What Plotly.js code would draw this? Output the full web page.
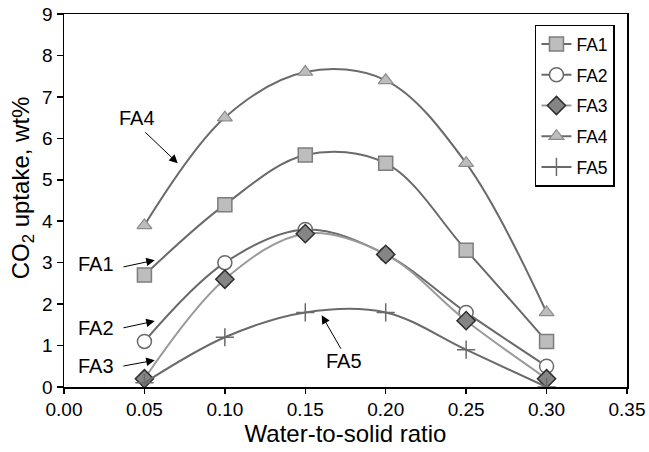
<!DOCTYPE html>
<html>
<head>
<meta charset="utf-8">
<script src="https://cdn.plot.ly/plotly-3.0.1.min.js"></script>
<style>
  html, body { margin: 0; padding: 0; background: #fff; }
  #chart { width: 649px; height: 452px; }
</style>
</head>
<body>
<div id="chart"></div>
<script>
// Water-to-solid ratio tested for each fly ash sample
const ratio = [0.05, 0.10, 0.15, 0.20, 0.25, 0.30];

// CO2 uptake (wt%) per fly ash sample
const fa1 = [2.7, 4.4, 5.6, 5.4, 3.3, 1.1];
const fa2 = [1.1, 3.0, 3.8, 3.2, 1.8, 0.5];
const fa3 = [0.2, 2.6, 3.7, 3.2, 1.6, 0.2];
const fa4 = [3.9, 6.5, 7.6, 7.4, 5.4, 1.8];
const fa5 = [0.1, 1.2, 1.8, 1.8, 0.9, 0.0];

const xTicks = [0.00, 0.05, 0.10, 0.15, 0.20, 0.25, 0.30, 0.35];
const yTicks = [0, 1, 2, 3, 4, 5, 6, 7, 8, 9];

const FONT = 'Liberation Sans, Arial, sans-serif';

function series(name, y, lineColor, marker) {
  return {
    x: ratio, y: y, name: name, type: 'scatter', mode: 'lines+markers',
    legendgroup: name,
    line: { color: lineColor, width: 2, shape: 'spline', smoothing: 1 },
    marker: marker
  };
}

const traces = [
  series('FA1', fa1, '#6a6a6a',
    { symbol: 'square', size: 14, color: '#bdbdbd', line: { color: '#7d7d7d', width: 1.5 } }),
  series('FA2', fa2, '#6a6a6a',
    { symbol: 'circle', size: 14, color: '#ffffff', line: { color: '#6a6a6a', width: 1.5 } }),
  series('FA3', fa3, '#9a9a9a',
    { symbol: 'diamond', size: 14, color: '#858585', line: { color: '#2e2e2e', width: 1.5 } }),
  series('FA4', fa4, '#6a6a6a',
    { symbol: 'triangle-up', size: 13, color: '#bdbdbd', line: { color: '#8c8c8c', width: 1.2 } }),
  series('FA5', fa5, '#6a6a6a',
    { symbol: 'cross-thin', size: 13, color: '#6a6a6a', line: { color: '#6a6a6a', width: 1.5 } })
];

// Labels and arrows pointing at each curve
function arrow(x, y, ax, ay) {
  return {
    x: x, y: y, ax: ax, ay: ay, xref: 'x', yref: 'y', axref: 'x', ayref: 'y',
    text: '', showarrow: true, arrowhead: 2, arrowsize: 1.7, arrowwidth: 1,
    arrowcolor: '#000', standoff: 0, startstandoff: 0
  };
}
function label(text, x, y) {
  return {
    x: x, y: y, xref: 'x', yref: 'y', text: text, showarrow: false,
    font: { family: FONT, size: 20, color: '#000' }
  };
}

const annotations = [
  label('FA4', 0.0453, 6.49), arrow(0.0707, 5.40, 0.0496, 6.18),
  label('FA1', 0.0197, 2.96), arrow(0.0564, 3.06, 0.0360, 2.89),
  label('FA2', 0.0197, 1.42), arrow(0.0564, 1.59, 0.0360, 1.42),
  label('FA3', 0.0197, 0.50), arrow(0.0564, 0.645, 0.0360, 0.50),
  label('FA5', 0.174, 0.62), arrow(0.1602, 1.73, 0.1727, 0.886),
  // y-axis title, placed a little above the axis midpoint
  {
    x: -0.073, y: 0.535, xref: 'paper', yref: 'paper', showarrow: false,
    text: 'CO<sub>2</sub> uptake, wt%', textangle: -90,
    xanchor: 'center', yanchor: 'middle',
    font: { family: FONT, size: 24, color: '#000' }
  }
];

const layout = {
  width: 649, height: 452,
  margin: { l: 64, r: 22, t: 14, b: 65 },
  paper_bgcolor: '#fff', plot_bgcolor: '#fff',
  font: { family: FONT, size: 18, color: '#000' },
  showlegend: true,
  legend: {
    x: 0.8365, y: 0.9716, xanchor: 'left', yanchor: 'top',
    bordercolor: '#000', borderwidth: 1.5, bgcolor: '#fff',
    font: { family: FONT, size: 17.5, color: '#000' },
    traceorder: 'grouped', tracegroupgap: 5
  },
  xaxis: {
    range: [0, 0.35], tickvals: xTicks, ticktext: xTicks.map(v => v.toFixed(2)),
    ticks: 'outside', ticklen: 5, tickwidth: 1.5, tickcolor: '#000',
    showline: true, linecolor: '#000', linewidth: 1.5, mirror: true,
    showgrid: false, zeroline: false,
    tickfont: { family: FONT, size: 19 },
    title: { text: 'Water-to-solid ratio', font: { family: FONT, size: 24 }, standoff: 4 }
  },
  yaxis: {
    range: [0, 9], tickvals: yTicks,
    ticks: 'outside', ticklen: 6, tickwidth: 1.5, tickcolor: '#000',
    showline: true, linecolor: '#000', linewidth: 1.5, mirror: true,
    showgrid: false, zeroline: false,
    tickfont: { family: FONT, size: 19 }
  },
  annotations: annotations
};

Plotly.newPlot('chart', traces, layout, { staticPlot: true, displayModeBar: false });
</script>
</body>
</html>
